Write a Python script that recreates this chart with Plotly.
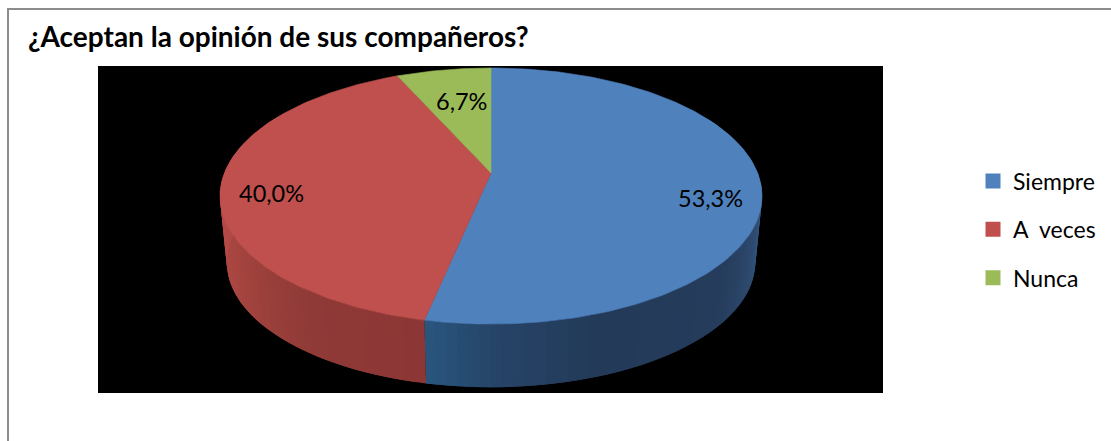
import numpy as np
import plotly.graph_objects as go

# --- data
categories = ["Siempre", "A\u00a0\u00a0veces", "Nunca"]
values = [53.3, 40.0, 6.7]
title_text = "¿Aceptan la opinión de sus compañeros?"

# --- style
top_colors = ["#4F81BD", "#C0504D", "#9BBB59"]
# wall shade stops: (clockwise angle from the top, colour)
wall_stops = [
    (60, "#3a5f8c"), (96, "#3d6390"), (110, "#2f4d73"), (130, "#263c5c"),
    (160, "#233a58"), (180, "#264468"), (191.9, "#29567f"),
    (192.0, "#8c3735"), (215, "#8f3a37"), (240, "#a5443f"), (262, "#b54b48"),
    (285, "#a84744"), (300, "#a84744"),
]

W, H = 1111, 441
PX0, PX1, PY0, PY1 = 98, 883, 66, 393   # black plot panel, pixels
APEX_X, APEX_Y = 491, 173

# --- perspective of the tilted disc
K = 0.1797
A = 123.9
B = 266.6
DROP = 67
BOTTOM_SCALE = 0.975


def project(theta_deg, r=1.0, bottom=False):
    t = np.radians(np.asarray(theta_deg, dtype=float))
    X, Y = r * np.sin(t), r * np.cos(t)
    d = 1 + K * Y
    x, y = B * X / d, A * Y / d
    if bottom:
        x, y = x * BOTTOM_SCALE, y * BOTTOM_SCALE - DROP
    return x, y


def hex_rgb(h):
    return np.array([int(h[i:i + 2], 16) for i in (1, 3, 5)], dtype=float)


def wall_color(theta):
    angs = [s[0] for s in wall_stops]
    cols = np.array([hex_rgb(s[1]) for s in wall_stops])
    c = [np.interp(theta, angs, cols[:, i]) for i in range(3)]
    return "rgb(%d,%d,%d)" % tuple(int(round(v)) for v in c)


fractions = np.array(values) / sum(values)
edges = np.concatenate([[0], np.cumsum(fractions) * 360])

fig = go.Figure()

# side wall (front part), drawn as overlapping facets so no seams show
for i in range(2):
    start, end = max(edges[i], 60), min(edges[i + 1], 300)
    grid = np.arange(start, end + 2.0, 2.0)
    grid[-1] = end
    for a0, a1 in zip(grid[:-1], grid[1:]):
        arc = np.array([a0, (a0 + min(a1 + 2.0, end)) / 2, min(a1 + 2.0, end)])
        xt, yt = project(arc)
        xb, yb = project(arc[::-1], bottom=True)
        col = wall_color((a0 + a1) / 2)
        fig.add_trace(go.Scatter(
            x=np.concatenate([xt, xb]), y=np.concatenate([yt, yb]),
            mode="lines", fill="toself", fillcolor=col,
            line=dict(width=0), showlegend=False, hoverinfo="skip"))

# top faces
for i in range(3):
    arc = np.linspace(edges[i], edges[i + 1], 160)
    xt, yt = project(arc)
    fig.add_trace(go.Scatter(
        x=np.concatenate([[0], xt, [0]]), y=np.concatenate([[0], yt, [0]]),
        mode="lines", fill="toself", fillcolor=top_colors[i],
        line=dict(color=top_colors[i], width=0.6), showlegend=False, hoverinfo="skip"))

# legend entries
for i, name in enumerate(categories):
    fig.add_trace(go.Scatter(
        x=[None], y=[None], mode="markers", name=name, legendgroup=name,
        marker=dict(symbol="square", size=15, color=top_colors[i])))


def px(x):
    return x / W


def py(y):
    return 1 - y / H


label_pos = [(710, 198), (271, 193), (461, 101)]
annotations = [
    dict(text=f"<b>{title_text}</b>", x=px(26), y=py(36), xref="paper", yref="paper",
         xanchor="left", yanchor="middle", showarrow=False,
         font=dict(family="Lato", size=28, color="#000000")),
]
for v, (lx, ly) in zip(values, label_pos):
    annotations.append(dict(
        text=f"{v:.1f}%".replace(".", ","), x=px(lx), y=py(ly), xref="paper", yref="paper",
        xanchor="center", yanchor="middle", showarrow=False,
        font=dict(family="Lato", size=23.5, color="#000000")))

shapes = [
    dict(type="rect", xref="paper", yref="paper", layer="below",
         x0=px(PX0), x1=px(PX1), y0=py(PY1), y1=py(PY0),
         fillcolor="#000000", line=dict(width=0)),
    dict(type="line", xref="paper", yref="paper", x0=px(8), x1=px(W), y0=py(9), y1=py(9),
         line=dict(color="#8c8c8c", width=2)),
    dict(type="line", xref="paper", yref="paper", x0=px(8), x1=px(8), y0=py(8), y1=0,
         line=dict(color="#8c8c8c", width=2)),
]

fig.update_layout(
    width=W, height=H, margin=dict(l=0, r=0, t=0, b=0),
    paper_bgcolor="#ffffff", plot_bgcolor="#000000",
    font=dict(family="Lato", color="#000000"),
    xaxis=dict(domain=[px(PX0), px(PX1)], range=[PX0 - APEX_X, PX1 - APEX_X], visible=False),
    yaxis=dict(domain=[py(PY1), py(PY0)], range=[APEX_Y - PY1, APEX_Y - PY0], visible=False),
    showlegend=True,
    legend=dict(x=px(973), y=py(159.5), xanchor="left", yanchor="top",
                font=dict(family="Lato", size=23, color="#000000"),
                bgcolor="rgba(0,0,0,0)", tracegroupgap=15.5, itemclick=False, itemdoubleclick=False),
    annotations=annotations, shapes=shapes,
)

fig.write_html("out.html", config=dict(displayModeBar=False),
               post_script="document.body.style.margin='0';")
